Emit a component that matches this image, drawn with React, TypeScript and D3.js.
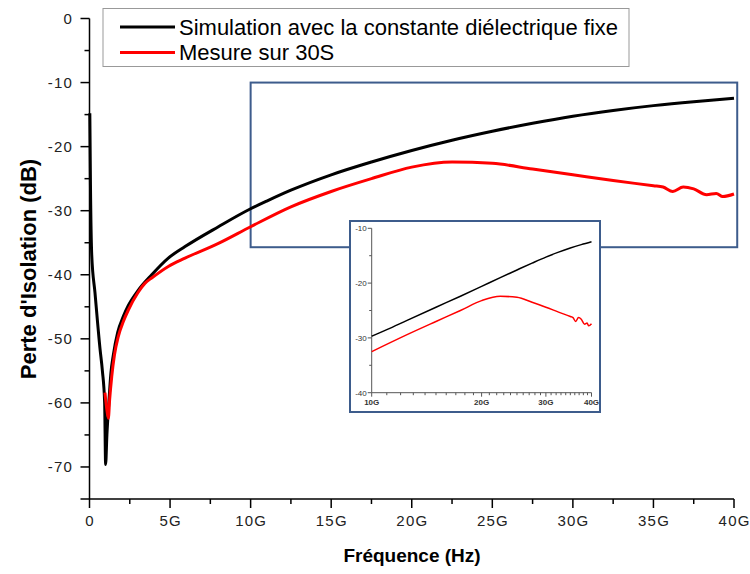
import React from "react";
import * as d3 from "d3";

// Frequencies in GHz
const simFreq = [0.02, 0.06, 0.14, 0.34, 0.65, 0.8, 0.94, 1.0, 1.08, 1.2, 1.33, 1.48, 1.75, 2.1, 2.41, 3.03, 3.86, 4.89, 5.93, 8.0, 10.0, 11, 12.5, 15, 17.5, 20, 22.5, 25, 27.5, 30, 32.5, 35, 37.5, 40];
const simVals = [-14.8, -26, -37, -42.8, -51.5, -55, -60, -69.6, -65, -60, -55.3, -52.5, -49, -46.5, -44.8, -42.4, -40.0, -37.4, -35.6, -32.5, -29.7, -28.5, -26.8, -24.4, -22.4, -20.6, -19.0, -17.6, -16.35, -15.25, -14.35, -13.6, -12.98, -12.45];

const mesFreq = [0.96, 1.05, 1.17, 1.25, 1.38, 1.55, 1.79, 2.1, 2.41, 3.0, 3.45, 3.86, 4.89, 5.93, 8.0, 10.0, 12.5, 15, 17.5, 20, 22.5, 25, 27.5, 30, 32.5, 35, 35.6, 36.2, 36.85, 37.5, 38.3, 38.9, 39.3, 40];
const mesVals = [-58.4, -60.5, -62.4, -59.5, -55.9, -52.5, -49.6, -47.3, -45.5, -42.8, -41.3, -40.5, -38.7, -37.4, -35.1, -32.5, -29.4, -27.0, -25.0, -23.2, -22.4, -22.6, -23.5, -24.4, -25.3, -26.1, -26.3, -27.0, -26.3, -26.6, -27.5, -27.3, -27.8, -27.4];

const seriesNames = ["Simulation avec la constante diélectrique fixe", "Mesure sur 30S"];
const seriesColors = ["#000000", "#ff0000"];

const xTicks = [0, 5, 10, 15, 20, 25, 30, 35, 40];
const xTickLabels = ["0", "5G", "10G", "15G", "20G", "25G", "30G", "35G", "40G"];
const yTicks = [0, -10, -20, -30, -40, -50, -60, -70];

const zoomX = [10, 40.2];
const zoomY = [-10, -35.7];

const insetXTicks = [10, 20, 30, 40];
const insetXLabels = ["10G", "20G", "30G", "40G"];
const insetYTicks = [-10, -20, -30, -40];

const FONT = "'Liberation Sans', Arial, sans-serif";

export default function App() {
  const x = d3.scaleLinear().domain([0, 40]).range([89.5, 734]);
  const y = d3.scaleLinear().domain([-75, 0]).range([499, 18.5]);

  const sim = simFreq.map((f, i) => [f, simVals[i]] as [number, number]);
  const mes = mesFreq.map((f, i) => [f, mesVals[i]] as [number, number]);

  const line = d3
    .line<[number, number]>()
    .x((d) => x(d[0]))
    .y((d) => y(d[1]))
    .curve(d3.curveMonotoneX);

  // inset
  const ix = d3.scaleLog().domain([10, 40]).range([371.7, 591.5]);
  const iy = d3.scaleLinear().domain([-40, -10]).range([392.7, 228.3]);
  const iline = d3
    .line<[number, number]>()
    .x((d) => ix(d[0]))
    .y((d) => iy(d[1]))
    .curve(d3.curveMonotoneX);
  const simIn = sim.filter((d) => d[0] >= 10);
  const mesIn = mes.filter((d) => d[0] >= 10);

  const xMinor = d3.range(2.5, 40, 5);
  const yMinor = d3.range(-5, -75, -10);
  const ixMinor = [11, 12, 13, 14, 15, 16, 17, 18, 19, 21, 22, 23, 24, 25, 26, 27, 28, 29, 31, 32, 33, 34, 35, 36, 37, 38, 39];
  const iyMinor = [-15, -25, -35];

  const axisColor = "#000";
  const labelColor = "#222";

  return (
    <div style={{ position: "absolute", left: 0, top: 0 }}>
      <svg width={750} height={574} style={{ display: "block", background: "#fff" }}>
        {/* Legend */}
        <rect x={103} y={8.5} width={526} height={58} fill="#fff" stroke="#999" strokeWidth={1} />
        {seriesNames.map((n, i) => (
          <g key={n}>
            <line x1={120} x2={175} y1={27 + i * 25.5} y2={27 + i * 25.5} stroke={seriesColors[i]} strokeWidth={3} />
            <text x={179} y={27 + i * 25.5} dy="0.36em" fontFamily={FONT} fontSize={22} fill="#000">
              {n}
            </text>
          </g>
        ))}

        {/* Zoom rectangle */}
        <rect
          x={x(zoomX[0])}
          y={y(zoomY[0])}
          width={x(zoomX[1]) - x(zoomX[0])}
          height={y(zoomY[1]) - y(zoomY[0])}
          fill="none"
          stroke="#3d5c8c"
          strokeWidth={2}
        />

        {/* Main lines */}
        <path d={line(sim) || ""} fill="none" stroke={seriesColors[0]} strokeWidth={3} strokeLinejoin="round" />
        <path d={line(mes) || ""} fill="none" stroke={seriesColors[1]} strokeWidth={3} strokeLinejoin="round" />

        {/* Axes */}
        <line x1={x(0)} x2={x(0)} y1={y(-75)} y2={y(0)} stroke={axisColor} strokeWidth={1.5} />
        <line x1={x(0)} x2={x(40)} y1={y(-75)} y2={y(-75)} stroke={axisColor} strokeWidth={1.5} />
        {yTicks.map((t) => (
          <g key={"yt" + t}>
            <line x1={x(0) - 9} x2={x(0)} y1={y(t)} y2={y(t)} stroke={axisColor} strokeWidth={1.5} />
            <text x={73} y={y(t)} dy="0.35em" textAnchor="end" fontFamily={FONT} fontSize={15} letterSpacing={1.2} fill={labelColor}>
              {t}
            </text>
          </g>
        ))}
        <line x1={x(0) - 9} x2={x(0)} y1={y(-75)} y2={y(-75)} stroke={axisColor} strokeWidth={1.5} />
        {yMinor.map((t) => (
          <line key={"ym" + t} x1={x(0) - 5} x2={x(0)} y1={y(t)} y2={y(t)} stroke={axisColor} strokeWidth={1.5} />
        ))}
        {xTicks.map((t, i) => (
          <g key={"xt" + t}>
            <line x1={x(t)} x2={x(t)} y1={y(-75)} y2={y(-75) + 9} stroke={axisColor} strokeWidth={1.5} />
            <text x={x(t) + 0.6} y={521} dy="0.35em" textAnchor="middle" fontFamily={FONT} fontSize={15} letterSpacing={1.2} fill={labelColor}>
              {xTickLabels[i]}
            </text>
          </g>
        ))}
        {xMinor.map((t) => (
          <line key={"xm" + t} x1={x(t)} x2={x(t)} y1={y(-75)} y2={y(-75) + 5} stroke={axisColor} strokeWidth={1.5} />
        ))}

        {/* Axis titles */}
        <text x={412} y={555} dy="0.35em" textAnchor="middle" fontFamily={FONT} fontSize={19} fontWeight="bold" fill="#000">
          Fréquence (Hz)
        </text>
        <text
          transform="translate(28,269) rotate(-90)"
          dy="0.35em"
          textAnchor="middle"
          fontFamily={FONT}
          fontSize={22}
          fontWeight="bold"
          fill="#000"
        >
          Perte d'Isolation (dB)
        </text>

        {/* Inset */}
        <rect x={350} y={221} width={250} height={191} fill="#fff" stroke="#3d5c8c" strokeWidth={2} />
        <line x1={ix(10)} x2={ix(10)} y1={iy(-40)} y2={iy(-10)} stroke="#555" strokeWidth={1} />
        <line x1={ix(10)} x2={ix(40)} y1={iy(-40)} y2={iy(-40)} stroke="#555" strokeWidth={1} />
        {insetYTicks.map((t) => (
          <g key={"iyt" + t}>
            <line x1={ix(10) - 4} x2={ix(10)} y1={iy(t)} y2={iy(t)} stroke="#555" strokeWidth={1} />
            <text x={ix(10) - 5} y={iy(t)} dy="0.35em" textAnchor="end" fontFamily={FONT} fontSize={8} fill="#333">
              {t}
            </text>
          </g>
        ))}
        {iyMinor.map((t) => (
          <line key={"iym" + t} x1={ix(10) - 2.5} x2={ix(10)} y1={iy(t)} y2={iy(t)} stroke="#555" strokeWidth={1} />
        ))}
        {insetXTicks.map((t, i) => (
          <g key={"ixt" + t}>
            <line x1={ix(t)} x2={ix(t)} y1={iy(-40)} y2={iy(-40) + 4} stroke="#555" strokeWidth={1} />
            <text x={ix(t)} y={iy(-40) + 9} dy="0.35em" textAnchor="middle" fontFamily={FONT} fontSize={8} fontWeight="bold" fill="#333">
              {insetXLabels[i]}
            </text>
          </g>
        ))}
        {ixMinor.map((t) => (
          <line key={"ixm" + t} x1={ix(t)} x2={ix(t)} y1={iy(-40)} y2={iy(-40) + 2.5} stroke="#555" strokeWidth={1} />
        ))}
        <path d={iline(simIn) || ""} fill="none" stroke={seriesColors[0]} strokeWidth={1.5} />
        <path d={iline(mesIn) || ""} fill="none" stroke={seriesColors[1]} strokeWidth={1.5} />
      </svg>
    </div>
  );
}
